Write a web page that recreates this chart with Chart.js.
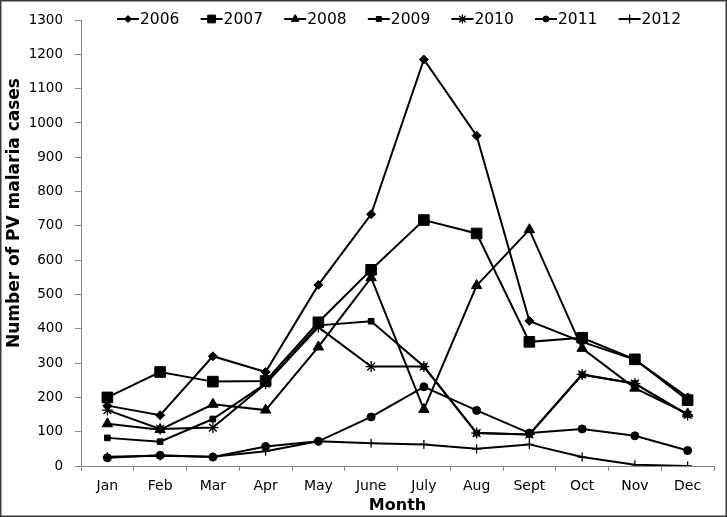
<!DOCTYPE html>
<html>
<head>
<meta charset="utf-8">
<script src="https://cdn.jsdelivr.net/npm/chart.js@4/dist/chart.umd.min.js"></script>
<style>
    body { margin: 0; background: #fff; font-family: "DejaVu Sans"; }
    canvas { display: block; }
    .preload { position: absolute; left: -999px; top: 0; }
</style>
</head>
<body>
<canvas id="pvChart" width="727" height="517"></canvas>
<span class="preload">0123 Month</span><span class="preload" style="font-weight:bold">Number Month</span>
<script>
// Data
const months = ['Jan', 'Feb', 'Mar', 'Apr', 'May', 'June', 'July', 'Aug', 'Sept', 'Oct', 'Nov', 'Dec'];
const yearLabels = ['2006', '2007', '2008', '2009', '2010', '2011', '2012'];

const cases2006 = [176, 148, 320, 274, 528, 734, 1185, 963, 423, 362, 310, 200];
const cases2007 = [200, 274, 246, 248, 419, 572, 717, 678, 362, 374, 311, 192];
const cases2008 = [123, 106, 180, 163, 347, 549, 165, 526, 689, 343, 227, 152];
const cases2009 = [82, 71, 137, 240, 410, 422, 290, 96, 92, 266, 241, 150];
const cases2010 = [163, 108, 112, 240, 405, 290, 290, 96, 92, 267, 240, 149];
const cases2011 = [24, 31, 26, 57, 72, 143, 231, 162, 96, 108, 88, 45];
const cases2012 = [27, 30, 27, 43, 72, 66, 63, 50, 63, 26, 4, 0];

const yTicks = { min: 0, max: 1300, step: 100 };

const series = [cases2006, cases2007, cases2008, cases2009, cases2010, cases2011, cases2012];
const markers = [
    { style: 'rectRot', radius: 4.5, legendRadius: 3.5, border: 1 },
    { style: 'rect', radius: 7.5, legendRadius: 5.5, border: 1 },
    { style: 'triangle', radius: 6, legendRadius: 4.5, border: 1 },
    { style: 'rect', radius: 4, legendRadius: 3.5, border: 1 },
    { style: 'star', radius: 5.5, legendRadius: 4.5, border: 1.3 },
    { style: 'circle', radius: 4, legendRadius: 3, border: 1 },
    { style: 'cross', radius: 4.5, legendRadius: 4.5, border: 1.3 }
];

const datasets = series.map((values, i) => ({
    label: yearLabels[i],
    data: values,
    borderColor: '#000',
    backgroundColor: '#000',
    borderWidth: 2,
    tension: 0,
    pointStyle: markers[i].style,
    pointRadius: markers[i].radius,
    pointHoverRadius: markers[i].radius,
    pointBackgroundColor: '#000',
    pointBorderColor: '#000',
    pointBorderWidth: markers[i].border
}));

const FONT = '"DejaVu Sans"';

// white page + frame round the picture
const framePlugin = {
    id: 'frame',
    beforeDraw(chart) {
        const ctx = chart.ctx;
        ctx.save();
        ctx.fillStyle = '#fff';
        ctx.fillRect(0, 0, chart.width, chart.height);
        ctx.restore();
    },
    afterDraw(chart) {
        const ctx = chart.ctx;
        ctx.save();
        ctx.strokeStyle = '#3a3a3a';
        ctx.lineWidth = 1.5;
        ctx.strokeRect(0.75, 0.75, chart.width - 1.5, chart.height - 1.5);
        ctx.restore();
    }
};

// legend drawn inside the plot, line + marker + year
const legendPlugin = {
    id: 'inlineLegend',
    afterDatasetsDraw(chart) {
        const ctx = chart.ctx;
        const y = 19;
        ctx.save();
        ctx.font = '15.5px ' + FONT;
        ctx.textBaseline = 'middle';
        ctx.textAlign = 'left';
        chart.data.datasets.forEach((ds, i) => {
            const x = 117 + i * 83.6;
            ctx.strokeStyle = '#000';
            ctx.lineWidth = 2;
            ctx.beginPath();
            ctx.moveTo(x, y);
            ctx.lineTo(x + 22, y);
            ctx.stroke();
            ctx.fillStyle = '#000';
            ctx.lineWidth = markers[i].border;
            Chart.helpers.drawPoint(ctx, {
                pointStyle: markers[i].style,
                radius: markers[i].legendRadius,
                rotation: 0,
                borderWidth: markers[i].border
            }, x + 11, y);
            ctx.fillStyle = '#000';
            ctx.fillText(ds.label, x + 23, y + 1);
        });
        ctx.restore();
    }
};

// y axis title placed like the reference
const yTitlePlugin = {
    id: 'yTitle',
    afterDraw(chart) {
        const ctx = chart.ctx;
        ctx.save();
        ctx.translate(15, 213);
        ctx.rotate(-Math.PI / 2);
        ctx.font = 'bold 17px ' + FONT;
        ctx.fillStyle = '#000';
        ctx.textAlign = 'center';
        ctx.textBaseline = 'middle';
        ctx.fillText('Number of PV malaria cases', 0, 0);
        ctx.restore();
    }
};

function drawChart() {
    const ctx = document.getElementById('pvChart').getContext('2d');
    new Chart(ctx, {
        type: 'line',
        data: { labels: months, datasets: datasets },
        options: {
            responsive: false,
            animation: false,
            layout: { padding: { top: 11, right: 13, left: 0, bottom: 0 } },
            plugins: {
                legend: { display: false },
                tooltip: { enabled: false }
            },
            scales: {
                x: {
                    offset: true,
                    afterFit(scale) { scale.height = 51; },
                    grid: {
                        drawOnChartArea: false,
                        drawTicks: true,
                        tickLength: 5,
                        color: '#888',
                        offset: true
                    },
                    border: { display: true, color: '#888', width: 1 },
                    ticks: {
                        color: '#000',
                        font: { size: 14, family: FONT },
                        padding: 7,
                        maxRotation: 0
                    },
                    title: {
                        display: true,
                        text: 'Month',
                        color: '#000',
                        font: { size: 16, weight: 'bold', family: FONT },
                        padding: { top: 0, bottom: 2 }
                    }
                },
                y: {
                    min: yTicks.min,
                    max: yTicks.max,
                    afterFit(scale) { scale.width = 81; },
                    grid: {
                        drawOnChartArea: false,
                        drawTicks: true,
                        tickLength: 6,
                        color: '#888'
                    },
                    border: { display: true, color: '#888', width: 1 },
                    ticks: {
                        stepSize: yTicks.step,
                        color: '#000',
                        font: { size: 13.5, family: FONT },
                        padding: 12,
                        callback: value => String(value)
                    }
                }
            }
        },
        plugins: [framePlugin, legendPlugin, yTitlePlugin]
    });
}

Promise.all([
    document.fonts.load('13px "DejaVu Sans"'),
    document.fonts.load('bold 16px "DejaVu Sans"')
]).then(drawChart, drawChart);
</script>
</body>
</html>
